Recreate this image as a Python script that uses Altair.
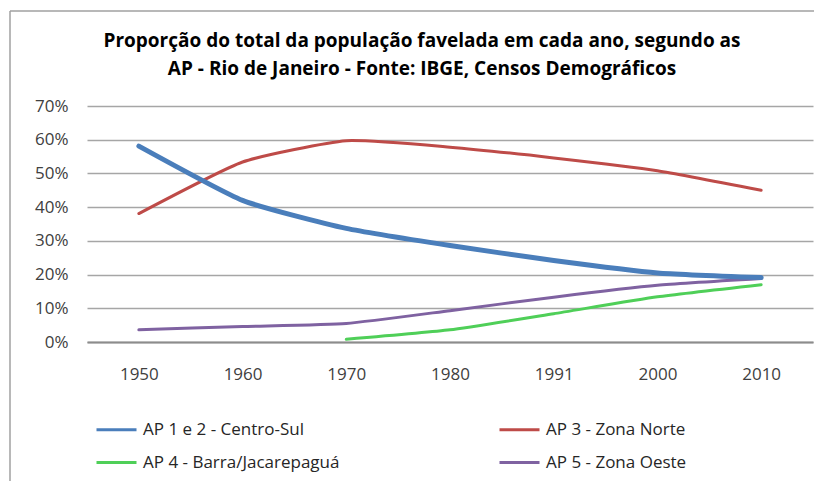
import altair as alt
import pandas as pd

years = ["1950", "1960", "1970", "1980", "1991", "2000", "2010"]
series_names = [
    "AP 1  e 2 - Centro-Sul",
    "AP 4 - Barra/Jacarepaguá",
    "AP 3 - Zona Norte",
    "AP 5 - Zona Oeste",
]
ap12 = [58.1, 42.0, 33.7, 28.6, 24.2, 20.5, 19.1]
ap3 = [38.1, 53.4, 59.7, 57.8, 54.6, 50.8, 45.0]
ap4 = [None, None, 0.8, 3.6, 8.4, 13.4, 17.0]
ap5 = [3.6, 4.6, 5.5, 9.3, 13.3, 16.8, 18.8]
y_ticks = [0, 0.1, 0.2, 0.3, 0.4, 0.5, 0.6, 0.7]

colors = ["#4A7EBB", "#4FCF58", "#BE4B48", "#7F62A1"]

title_lines = [
    "Proporção do total da população favelada em cada ano, segundo as",
    "AP - Rio de Janeiro - Fonte: IBGE, Censos Demográficos",
]

rows = []
for name, vals in zip(series_names, [ap12, ap4, ap3, ap5]):
    for yr, v in zip(years, vals):
        if v is not None:
            rows.append({"ano": yr, "serie": name, "valor": v / 100.0})
df = pd.DataFrame(rows)

FONT = "Open Sans"

x_enc = alt.X(
    "ano:O",
    sort=years,
    scale=alt.Scale(type="point", padding=0.5),
    axis=alt.Axis(
        title=None, labelAngle=0, ticks=False, domain=True,
        domainColor="#8c8c8c", domainWidth=2, labelPadding=24,
        labelFontSize=17, labelFont=FONT, labelColor="#404040", grid=False,
    ),
)
y_enc = alt.Y(
    "valor:Q",
    scale=alt.Scale(domain=[0, 0.7], nice=False),
    axis=alt.Axis(
        title=None, values=y_ticks, format=".0%", ticks=False, domain=False,
        labelPadding=19, labelFontSize=17, labelFont=FONT, labelColor="#404040",
        gridColor="#a6a6a6", gridWidth=1.5,
    ),
)
color_enc = alt.Color(
    "serie:N",
    scale=alt.Scale(domain=series_names, range=colors),
    legend=alt.Legend(
        title=None, orient="none", legendX=8, legendY=302, columns=2,
        columnPadding=153, rowPadding=3, symbolType="stroke",
        symbolSize=1600, symbolStrokeWidth=3, labelFontSize=17,
        labelFont=FONT, labelColor="#262626", labelOffset=5, labelLimit=400,
    ),
)

base = alt.Chart(df).encode(x=x_enc, y=y_enc, color=color_enc)

thin = base.transform_filter(
    alt.datum.serie != series_names[0]
).mark_line(interpolate="cardinal", tension=0.5, strokeCap="round", strokeWidth=3)

thick = base.transform_filter(
    alt.datum.serie == series_names[0]
).mark_line(interpolate="cardinal", tension=0.5, strokeCap="round", strokeWidth=5)

one = pd.DataFrame({"a": [0]})
border_top = alt.Chart(one).mark_rule(color="#a0a0a0", strokeWidth=1.5).encode(
    x=alt.value(-77), x2=alt.value(727), y=alt.value(-95)
)
border_left = alt.Chart(one).mark_rule(color="#a0a0a0", strokeWidth=1.5).encode(
    x=alt.value(-77), y=alt.value(-95), y2=alt.value(380)
)

chart = alt.layer(border_top, border_left, thin, thick).properties(
    width=726,
    height=236,
    padding={"left": 79, "top": 98, "right": 1, "bottom": 139},
    autosize=alt.AutoSizeParams(type="none"),
    title=alt.TitleParams(
        text=title_lines, fontSize=19, font=FONT, fontWeight="bold",
        color="#000000", anchor="middle", dx=-28, dy=83, offset=14, lineHeight=28,
    ),
).configure_view(stroke=None)

chart.save("out.html", embed_options={"renderer": "svg", "actions": False})
